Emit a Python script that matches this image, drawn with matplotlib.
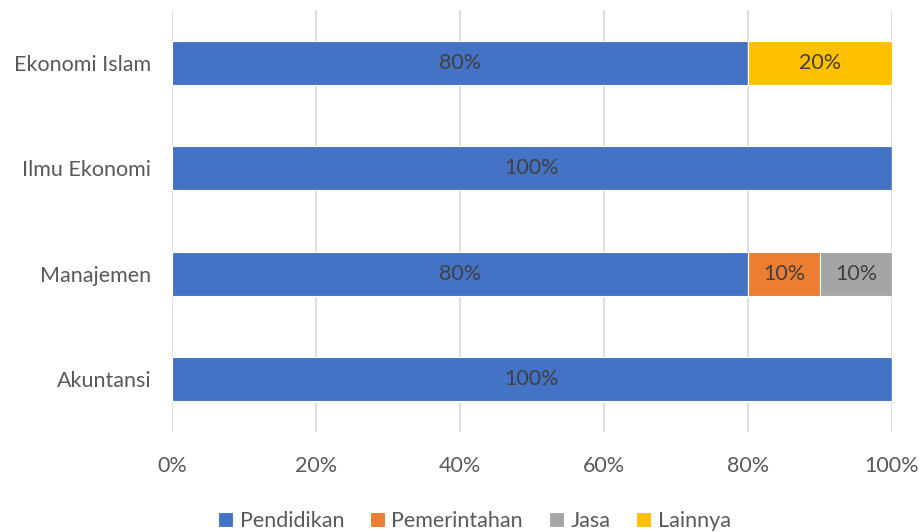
import numpy as np
import matplotlib.pyplot as plt

plt.rcParams['font.family'] = ['Lato', 'DejaVu Sans']

# program studi (bottom to top) dan sektor pekerjaan alumni
prodi = ['Akuntansi', 'Manajemen', 'Ilmu Ekonomi', 'Ekonomi Islam']
sektor = ['Pendidikan', 'Pemerintahan', 'Jasa', 'Lainnya']
pendidikan = [100, 80, 100, 80]
pemerintahan = [0, 10, 0, 0]
jasa = [0, 10, 0, 0]
lainnya = [0, 0, 0, 20]
warna = ['#4472C4', '#ED7D31', '#A5A5A5', '#FFC000']
xticks = [0, 20, 40, 60, 80, 100]

fig = plt.figure(figsize=(9.23, 5.32), dpi=100)
ax = fig.add_axes([172/923, 1 - 432/532, 720/923, 422/532])

y = np.arange(len(prodi))
left = np.zeros(len(prodi))
for nama, nilai, c in zip(sektor, [pendidikan, pemerintahan, jasa, lainnya], warna):
    nilai = np.array(nilai, dtype=float)
    bars = ax.barh(y, nilai, left=left, height=0.42, color=c, edgecolor='white',
                   linewidth=0.8, label=nama, zorder=2)
    for b, v in zip(bars, nilai):
        if v > 0:
            ax.text(b.get_x() + b.get_width() / 2, b.get_y() + b.get_height() / 2,
                    f'{v:.0f}%', ha='center', va='center', fontsize=15.5,
                    color='#404040', zorder=3)
    left += nilai

ax.set_xlim(0, 100)
ax.set_ylim(-0.5, len(prodi) - 0.5)
ax.set_xticks(xticks)
ax.set_xticklabels([f'{t}%' for t in xticks], fontsize=15.5, color='#595959')
ax.set_yticks(y)
ax.set_yticklabels(prodi, fontsize=15.5, color='#595959')
ax.tick_params(length=0)
ax.tick_params(axis='y', pad=15)
ax.tick_params(axis='x', pad=17)
ax.grid(axis='x', color='#D9D9D9', linewidth=1.2, zorder=0)
for s in ax.spines.values():
    s.set_visible(False)

fig.legend(loc='lower center', bbox_to_anchor=(0.514, -0.035), ncol=4, frameon=False,
           fontsize=15.5, handlelength=0.7, handleheight=0.7, handletextpad=0.3,
           columnspacing=1.2, labelcolor='#595959')

fig.savefig('out.png', dpi=100)
